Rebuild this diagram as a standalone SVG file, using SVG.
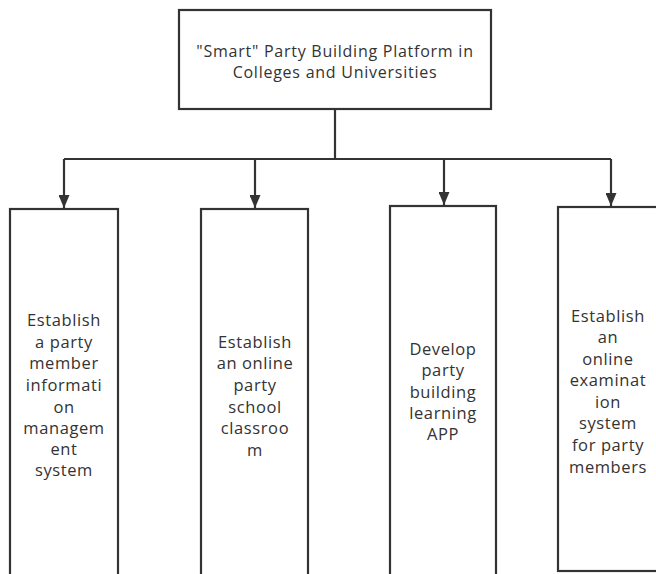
<svg xmlns="http://www.w3.org/2000/svg" width="656" height="574" viewBox="0 0 656 574">
<defs>
<style>
.box{fill:#fff;stroke:#333;stroke-width:2.2}
.t{font-family:"Open Sans","Noto Sans","Liberation Sans",sans-serif;font-size:16.5px;letter-spacing:0.6px;fill:#333;text-anchor:middle}
.h{font-size:16px;letter-spacing:0.75px}
.c{fill:none;stroke:#333;stroke-width:2.2}
</style>
<marker id="ah" markerWidth="13" markerHeight="11" refX="13" refY="5.5" orient="auto" markerUnits="userSpaceOnUse" viewBox="0 0 13 11">
<path d="M0,0 L13,5.5 L0,11 Z" fill="#333"/>
</marker>
</defs>
<rect width="656" height="574" fill="#fff"/>
<g id="connectors">
<path class="c" d="M335,109 V159"/>
<path class="c" d="M64,159 H611"/>
<path class="c" d="M64,159 V208" marker-end="url(#ah)"/>
<path class="c" d="M255,159 V208" marker-end="url(#ah)"/>
<path class="c" d="M444,159 V205" marker-end="url(#ah)"/>
<path class="c" d="M611,159 V206" marker-end="url(#ah)"/>
</g>
<g id="root">
<rect class="box" x="179" y="10" width="312" height="99"/>
<text class="t h" x="335" y="57">"Smart" Party Building Platform in</text>
<text class="t h" x="335" y="78">Colleges and Universities</text>
</g>
<g id="n1">
<rect class="box" x="10" y="209" width="108" height="380"/>
<text class="t" x="64" y="326">Establish</text>
<text class="t" x="64" y="348">a party</text>
<text class="t" x="64" y="369">member</text>
<text class="t" x="64" y="391">informati</text>
<text class="t" x="64" y="413">on</text>
<text class="t" x="64" y="434">managem</text>
<text class="t" x="64" y="455">ent</text>
<text class="t" x="64" y="476">system</text>
</g>
<g id="n2">
<rect class="box" x="201" y="209" width="107" height="380"/>
<text class="t" x="255" y="348">Establish</text>
<text class="t" x="255" y="369">an online</text>
<text class="t" x="255" y="391">party</text>
<text class="t" x="255" y="413">school</text>
<text class="t" x="255" y="434">classroo</text>
<text class="t" x="255" y="456">m</text>
</g>
<g id="n3">
<rect class="box" x="390" y="206" width="106" height="383"/>
<text class="t" x="443" y="355">Develop</text>
<text class="t" x="443" y="376">party</text>
<text class="t" x="443" y="398">building</text>
<text class="t" x="443" y="419">learning</text>
<text class="t" x="443" y="440">APP</text>
</g>
<g id="n4">
<rect class="box" x="558" y="207" width="102" height="364"/>
<text class="t" x="608" y="322">Establish</text>
<text class="t" x="608" y="343">an</text>
<text class="t" x="608" y="365">online</text>
<text class="t" x="608" y="386">examinat</text>
<text class="t" x="608" y="408">ion</text>
<text class="t" x="608" y="429">system</text>
<text class="t" x="608" y="451">for party</text>
<text class="t" x="608" y="473">members</text>
</g>
</svg>
